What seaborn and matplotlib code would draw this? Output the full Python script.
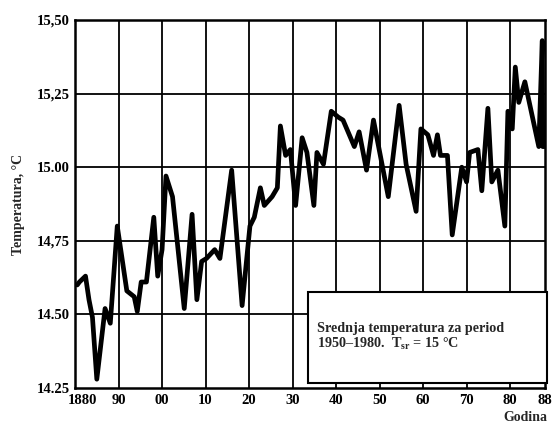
import matplotlib
matplotlib.use("Agg")
import matplotlib.pyplot as plt
import matplotlib.transforms as mtransforms
import seaborn as sns
import pandas as pd

years = [1880.5, 1881.0, 1882.4, 1883.2, 1884.0, 1885.0, 1886.9, 1888.1, 1889.7,
         1891.9, 1893.6, 1894.3, 1895.2, 1896.4, 1898.1, 1899.0,
         1900.0, 1900.9, 1902.4, 1905.1, 1906.9, 1908.0, 1909.1,
         1910.2, 1912.1, 1913.3, 1916.0, 1918.4,
         1920.2, 1921.2, 1922.6, 1923.5, 1925.3, 1926.5, 1927.2, 1928.4, 1929.5,
         1930.7, 1932.2, 1933.3, 1934.9, 1935.6, 1937.1, 1938.9,
         1940.5, 1941.6, 1944.2, 1945.3, 1947.0, 1948.6,
         1952.0, 1954.5, 1956.1, 1958.4, 1959.5,
         1961.1, 1962.4, 1963.3, 1964.0, 1965.6, 1966.7, 1968.9,
         1970.0, 1970.7, 1972.6, 1973.5, 1974.9, 1975.8, 1977.2, 1978.8, 1979.5,
         1980.5, 1981.2, 1982.0, 1983.4, 1986.6, 1987.4, 1987.5, 1988.0]
temps = [14.60, 14.61, 14.63, 14.55, 14.49, 14.28, 14.52, 14.47, 14.80,
         14.58, 14.56, 14.51, 14.61, 14.61, 14.83, 14.63,
         14.72, 14.97, 14.90, 14.52, 14.84, 14.55, 14.68,
         14.69, 14.72, 14.69, 14.99, 14.53,
         14.80, 14.83, 14.93, 14.87, 14.90, 14.93, 15.14, 15.04, 15.06,
         14.87, 15.10, 15.05, 14.87, 15.05, 15.01, 15.19,
         15.17, 15.16, 15.07, 15.12, 14.99, 15.16,
         14.90, 15.21, 15.01, 14.85, 15.13,
         15.11, 15.04, 15.11, 15.04, 15.04, 14.77, 15.00,
         14.95, 15.05, 15.06, 14.92, 15.20, 14.95, 14.99, 14.80, 15.19,
         15.13, 15.34, 15.22, 15.29, 15.07, 15.43, 15.07, 15.07]

x_ticks = [1880, 1890, 1900, 1910, 1920, 1930, 1940, 1950, 1960, 1970, 1980, 1988]
x_labels = ["1880", "90", "00", "10", "20", "30", "40", "50", "60", "70", "80", "88"]
y_ticks = [14.25, 14.50, 14.75, 15.00, 15.25, 15.50]
y_labels = ["14.25", "14.50", "14,75", "15.00", "15,25", "15,50"]

box_text = "Srednja temperatura za period\n1950\u20131980.  T$_{\\mathbf{sr}}$ = 15 \u00b0C"

sns.set_theme(style="white")
plt.rcParams['font.family'] = ['Liberation Serif', 'DejaVu Serif']
plt.rcParams['mathtext.fontset'] = 'custom'
plt.rcParams['mathtext.rm'] = 'Liberation Serif'
plt.rcParams['mathtext.bf'] = 'Liberation Serif:bold'

df = pd.DataFrame({"Godina": years, "T": temps})

fig = plt.figure(figsize=(5.56, 4.25), dpi=100)
ax = fig.add_axes([0.135, 0.087, 0.845, 0.866])

for xv in x_ticks[1:-1]:
    ax.axvline(xv, color="black", lw=1.3, zorder=1)
for yv in y_ticks[1:-1]:
    ax.axhline(yv, color="black", lw=1.3, zorder=1)

sns.lineplot(data=df, x="Godina", y="T", sort=False, estimator=None,
             color="black", lw=3.4, ax=ax, zorder=3)

ax.set_xlim(1880, 1988)
ax.set_ylim(14.25, 15.5)
ax.set_xticks(x_ticks)
ax.set_xticklabels(x_labels, fontweight="bold", fontsize=10.5)
ax.set_yticks(y_ticks)
ax.set_yticklabels(y_labels, fontweight="bold", fontsize=10.5)
ax.tick_params(length=0, pad=4, colors="black")
ax.set_xlabel("")
ax.set_ylabel("Temperatura, \u00b0C", fontweight="bold", fontsize=10, labelpad=8)
for s in ax.spines.values():
    s.set_color("black")
    s.set_linewidth(1.8)

# shift the "1880" label a bit to the right as in the original
lbl = ax.get_xticklabels()[0]
lbl.set_transform(lbl.get_transform() + mtransforms.ScaledTranslation(7/100, 0, fig.dpi_scale_trans))

box = plt.Rectangle((0.495, 0.015), 0.51, 0.245, transform=ax.transAxes,
                    facecolor="white", edgecolor="black", lw=1.5, zorder=5,
                    clip_on=False)
ax.add_patch(box)
ax.text(0.515, 0.18, box_text, transform=ax.transAxes, fontsize=10.2,
        fontweight="bold", va="top", ha="left", zorder=6, linespacing=1.05)

fig.text(0.945, 0.018, "Godina", fontweight="bold", fontsize=10, ha="center", va="center")

fig.savefig("out.png", dpi=100, facecolor="white")
